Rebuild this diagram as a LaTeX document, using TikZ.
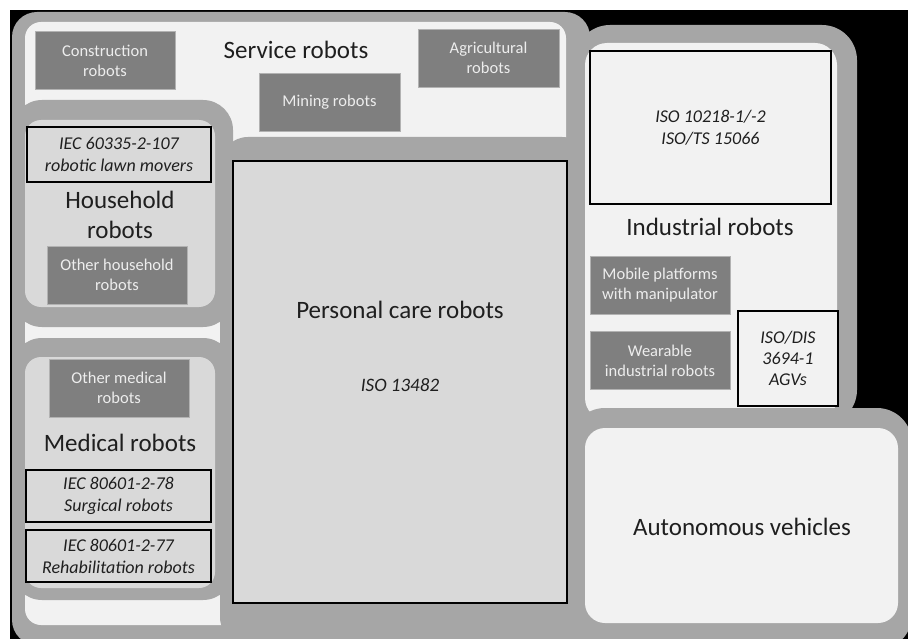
\documentclass[tikz,border=0pt]{standalone}
\usepackage{fontspec}
\setmainfont{Carlito}
\usetikzlibrary{positioning}
\definecolor{regiongray}{HTML}{A6A6A6}
\definecolor{lightpane}{HTML}{F2F2F2}
\definecolor{midpane}{HTML}{D9D9D9}
\definecolor{darkpane}{HTML}{7F7F7F}
\definecolor{boxtext}{HTML}{EDEDED}
\definecolor{labeltext}{HTML}{1F1F1F}

\begin{document}
\begin{tikzpicture}[x=1pt,y=-1pt,
    frame/.style={fill=regiongray,rounded corners=28pt},
    pane/.style={fill=lightpane,rounded corners=16pt},
    midarea/.style={fill=midpane,rounded corners=16pt},
    darkbox/.style={rectangle,fill=darkpane,draw=black!30,line width=0.6pt,align=center,text=boxtext,inner sep=0pt,minimum width=140pt,minimum height=58pt,font=\fontsize{16.5}{20}\selectfont},
    stdbox/.style={rectangle,draw=black,line width=2pt,align=center,inner sep=0pt,text=labeltext,font=\fontsize{18}{22}\selectfont\itshape},
    maintext/.style={align=center,text=labeltext,font=\fontsize{25}{30}\selectfont}]

    \useasboundingbox (0,0) rectangle (908,639);
    \fill[black] (10,10) rectangle (908,639);

    % Service robots (outer area)
    \fill[frame,rounded corners=25pt] (12,12) rectangle (590,645);
    \fill[pane] (25,22) rectangle (566,625);
    \node[darkbox] (constr) at (105,60.5) {Construction\\robots};
    \node[darkbox,minimum width=141pt] (mining) at (329.5,102.5) {Mining robots};
    \node[darkbox,minimum width=141pt] (agri) at (488.5,58) {Agricultural\\robots};
    \node[maintext] (service) at (296,50) {Service robots};

    % Household robots
    \fill[frame,rounded corners=30pt] (12,100) rectangle (233,327);
    \fill[midarea] (25,120) rectangle (215,307);
    \node[stdbox,fill=midpane,minimum width=184pt,minimum height=55pt] (lawn) at (119,154.5) {IEC 60335-2-107\\robotic lawn movers};
    \node[maintext] (household) at (120,215) {Household\\robots};
    \node[darkbox] (otherhh) at (117,275) {Other household\\robots};

    % Medical robots
    \fill[frame,rounded corners=30pt] (12,338) rectangle (233,600);
    \fill[midarea] (25,357) rectangle (215,588);
    \node[darkbox] (othermed) at (119,388) {Other medical\\robots};
    \node[maintext] (medical) at (120,443) {Medical robots};
    \node[stdbox,fill=midpane,minimum width=185pt,minimum height=52pt] (surgical) at (118.5,496) {IEC 80601-2-78\\Surgical robots};
    \node[stdbox,fill=midpane,minimum width=185pt,minimum height=52pt,below=6pt of surgical] (rehab) {IEC 80601-2-77\\Rehabilitation robots};

    % Personal care robots
    \fill[frame] (220,137) rectangle (590,645);
    \node[stdbox,fill=midpane,minimum width=334pt,minimum height=442pt] (personal) at (400,382) {};
    \node[maintext] (personaltxt) at (400,310) {Personal care robots};
    \node[align=center,text=labeltext,font=\fontsize{19}{22}\selectfont\itshape] (iso13482) at (400,385) {ISO 13482};

    % Industrial robots
    \fill[frame,rounded corners=35pt] (575,25) rectangle (857,425);
    \fill[pane,rounded corners=22pt] (585,43) rectangle (837,420);
    \node[stdbox,fill=lightpane,minimum width=241pt,minimum height=153pt] (iso10218) at (710.5,127.5) {ISO 10218-1/-2\\ISO/TS 15066};
    \node[maintext] (industrial) at (710,227) {Industrial robots};
    \node[darkbox] (mobile) at (660,285) {Mobile platforms\\with manipulator};
    \node[darkbox,below=17pt of mobile] (wearable) {Wearable\\industrial robots};
    \node[stdbox,fill=lightpane,minimum width=100pt,minimum height=95pt,font=\fontsize{18}{21}\selectfont\itshape] (agv) at (788,358.5) {ISO/DIS\\3694-1\\AGVs};

    % Autonomous vehicles
    \fill[frame,rounded corners=35pt] (570,408) rectangle (912,650);
    \fill[pane,rounded corners=20pt] (585,428) rectangle (898,623);
    \node[maintext] (auto) at (742,527) {Autonomous vehicles};
\end{tikzpicture}
\end{document}
